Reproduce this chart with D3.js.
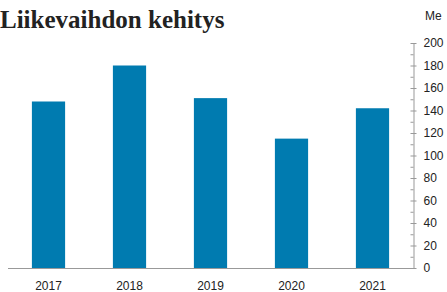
<html lang="fi">
<head>
<meta charset="UTF-8">
<title>Liikevaihdon kehitys</title>
<style>
    body { margin: 0; background: #fff; }
    .title { font-family: "Liberation Serif", serif; font-weight: bold; font-size: 25px; fill: #222; }
    .lbl { font-family: "Liberation Sans", Arial, sans-serif; font-size: 12px; fill: #222; }
</style>
</head>
<body>
<div id="chart"></div>
<script src="https://d3js.org/d3.v7.min.js"></script>
<script>
    // data
    const years = ['2017', '2018', '2019', '2020', '2021'];
    const revenue = [148, 180, 151, 115, 142];
    const yTicks = [0, 20, 40, 60, 80, 100, 120, 140, 160, 180, 200];
    const yMinorTicks = [10, 30, 50, 70, 90, 110, 130, 150, 170, 190];
    const unit = 'Me';
    const title = 'Liikevaihdon kehitys';

    const width = 447, height = 292;
    const plotLeft = 8, axisX = 413, plotTop = 43, base = 268;

    const svg = d3.select('#chart').append('svg')
        .attr('width', width)
        .attr('height', height);

    svg.append('text')
        .attr('class', 'title')
        .attr('x', 0)
        .attr('y', 28)
        .text(title);

    const x = d3.scaleBand()
        .domain(years)
        .range([plotLeft, axisX])
        .paddingInner(0.59)
        .paddingOuter(0.295);

    const y = d3.scaleLinear()
        .domain([0, 200])
        .range([base, plotTop]);

    svg.selectAll('.bar')
        .data(years)
        .enter()
        .append('rect')
        .attr('class', 'bar')
        .attr('x', d => x(d))
        .attr('y', (d, i) => y(revenue[i]))
        .attr('width', x.bandwidth())
        .attr('height', (d, i) => base - y(revenue[i]))
        .attr('fill', '#007bb0');

    // baseline
    svg.append('line')
        .attr('x1', plotLeft).attr('x2', axisX)
        .attr('y1', base + 0.5).attr('y2', base + 0.5)
        .attr('stroke', '#999');

    // minor ticks
    svg.append('g')
        .attr('transform', `translate(${axisX + 0.5},0)`)
        .call(d3.axisRight(y).tickValues(yMinorTicks).tickSize(-3).tickFormat(''))
        .call(g => g.select('.domain').remove())
        .selectAll('line').attr('stroke', '#999');

    // major axis
    const ax = svg.append('g')
        .attr('transform', `translate(${axisX + 0.5},0)`)
        .call(d3.axisRight(y).tickValues(yTicks).tickSizeOuter(0).tickSizeInner(-3).tickPadding(10));
    ax.select('.domain').attr('stroke', '#999');
    ax.selectAll('.tick line').attr('x1', 3).attr('x2', -3).attr('stroke', '#999');
    ax.selectAll('.tick text')
        .attr('class', 'lbl')
        .attr('font-family', null).attr('font-size', null).attr('fill', null);

    svg.append('text')
        .attr('class', 'lbl')
        .attr('x', 425)
        .attr('y', 20)
        .text(unit);

    // x labels
    svg.selectAll('.xl')
        .data(years)
        .enter()
        .append('text')
        .attr('class', 'lbl')
        .attr('x', d => x(d) + x.bandwidth() / 2)
        .attr('y', 290)
        .attr('text-anchor', 'middle')
        .text(d => d);
</script>
</body>
</html>
